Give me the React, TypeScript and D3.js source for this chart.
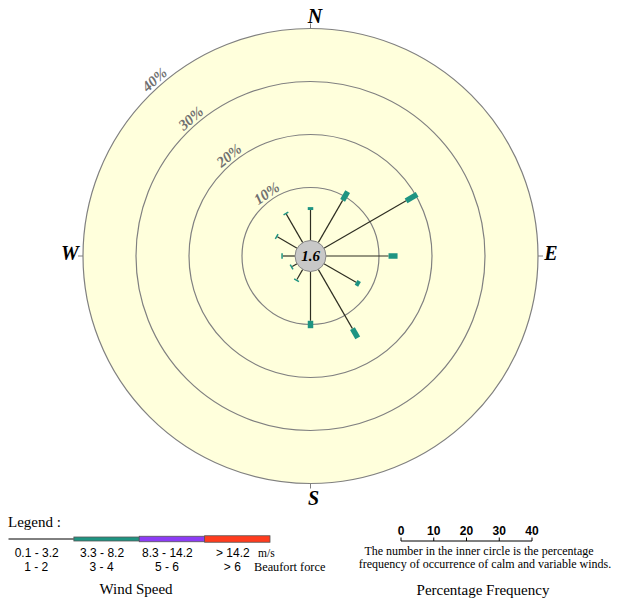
import React from "react";
import * as d3 from "d3";

// Directions (degrees clockwise from north)
const directions = [0, 30, 60, 90, 120, 150, 180, 210, 240, 270, 300, 330];
// Percentage frequency for 0.1-3.2 m/s (Beaufort 1-2)
const band1 = [5.75, 9.2, 17.9, 11.8, 7.0, 12.9, 9.3, 2.2, 1.05, 2.3, 4.3, 6.2];
// Percentage frequency for 3.3-8.2 m/s (Beaufort 3-4)
const band2 = [0.55, 1.9, 2.4, 1.7, 0.75, 2.0, 1.4, 0.15, 0.15, 0.15, 0.15, 0.15];
const calm = 1.6;
const rings = [10, 20, 30, 40];
const ringLabelAngles = [-35, -39, -41, -41.5];
const compass = [
  { label: "N", angle: 0 },
  { label: "E", angle: 90 },
  { label: "S", angle: 180 },
  { label: "W", angle: 270 },
];
const legendColors = ["#000000", "#1e9482", "#8c3cf5", "#ff3c1e"];
const legendMs = ["0.1 - 3.2", "3.3 - 8.2", "8.3 - 14.2", "> 14.2"];
const legendBeaufort = ["1 - 2", "3 - 4", "5 - 6", "> 6"];
const scaleTicks = [0, 10, 20, 30, 40];

const cx = 310.5;
const cy = 256;

export default function App() {
  const r = d3.scaleLinear().domain([0, 40]).range([15.5, 227.5]);
  const legX = d3.scaleLinear().domain([0, 4]).range([8.5, 270]);
  const sx = d3.scaleLinear().domain([0, 40]).range([401, 532]);
  const serif = "'Liberation Serif', 'Times New Roman', serif";
  const sans = "'Liberation Sans', Arial, sans-serif";
  const legHeights = [0, 4, 5.5, 6.5];

  return (
    <svg
      width={620}
      height={600}
      style={{ position: "absolute", left: 0, top: 0, background: "#fff" }}
    >
      <g transform={`translate(${cx},${cy})`}>
        <circle r={r(40)} fill="#ffffdc" stroke="#808080" strokeWidth={1.2} />
        {rings.slice(0, 3).map((p) => (
          <circle key={p} r={r(p)} fill="none" stroke="#808080" strokeWidth={1.2} />
        ))}
        {compass.map((c) => (
          <g key={c.label} transform={`rotate(${c.angle})`}>
            <line x1={0} x2={0} y1={-r(40)} y2={-r(40) - 5} stroke="#808080" strokeWidth={1} />
          </g>
        ))}
        {rings.map((p, i) => (
          <text
            key={p}
            transform={`rotate(${ringLabelAngles[i]}) translate(0,${-(r(p) + 3)})`}
            textAnchor="middle"
            fontFamily={serif}
            fontWeight="bold"
            fontStyle="italic"
            fontSize={15}
            fill="#707070"
          >
            {p}%
          </text>
        ))}
        {directions.map((a, i) => {
          const r1 = r(band1[i]);
          const r2 = r(band1[i] + band2[i]);
          const len = Math.max(r2 - r1, 1.5);
          return (
            <g key={a} transform={`rotate(${a})`}>
              <line x1={0} x2={0} y1={-r(0)} y2={-r1} stroke="#2e2e22" strokeWidth={1.2} />
              <rect x={-2.75} y={-r1 - len} width={5.5} height={len} fill="#1e9482" />
            </g>
          );
        })}
        <circle r={r(0)} fill="#c8c8c8" stroke="#888" strokeWidth={1} />
        <text
          y={5}
          textAnchor="middle"
          fontFamily={serif}
          fontWeight="bold"
          fontStyle="italic"
          fontSize={15}
          fill="#000"
        >
          {calm}
        </text>
      </g>

      {/* Compass letters */}
      <text x={315} y={23} textAnchor="middle" fontFamily={serif} fontWeight="bold" fontStyle="italic" fontSize={20}>N</text>
      <text x={551} y={260} textAnchor="middle" fontFamily={serif} fontWeight="bold" fontStyle="italic" fontSize={20}>E</text>
      <text x={313.5} y={505} textAnchor="middle" fontFamily={serif} fontWeight="bold" fontStyle="italic" fontSize={20}>S</text>
      <text x={70} y={260} textAnchor="middle" fontFamily={serif} fontWeight="bold" fontStyle="italic" fontSize={20}>W</text>

      {/* Legend */}
      <text x={8} y={527} fontFamily={serif} fontSize={15}>Legend :</text>
      {legendColors.map((c, i) => {
        const x0 = legX(i);
        const x1 = legX(i + 1);
        const h = legHeights[i];
        return i === 0 ? (
          <line key={i} x1={x0} x2={x1} y1={539} y2={539} stroke="#000" strokeWidth={1} />
        ) : (
          <rect key={i} x={x0} y={539 - h / 2} width={x1 - x0} height={h} fill={c} stroke="#555" strokeWidth={0.8} />
        );
      })}
      {legendMs.map((t, i) => (
        <text key={t} x={legX(i + 0.5) - 4.5} y={557} textAnchor="middle" fontFamily={sans} fontSize={12}>
          {t}
        </text>
      ))}
      <text x={258} y={557} fontFamily={serif} fontSize={11.5}>m/s</text>
      {legendBeaufort.map((t, i) => (
        <text key={t} x={legX(i + 0.5) - 5} y={570.5} textAnchor="middle" fontFamily={sans} fontSize={12}>
          {t}
        </text>
      ))}
      <text x={254} y={570.5} fontFamily={serif} fontSize={12.3}>Beaufort force</text>
      <text x={136} y={594} textAnchor="middle" fontFamily={serif} fontSize={15}>Wind Speed</text>

      {/* Percentage scale */}
      <line x1={sx(0)} x2={sx(40)} y1={541} y2={541} stroke="#000" strokeWidth={1} />
      {scaleTicks.map((t) => (
        <g key={t}>
          <line x1={sx(t)} x2={sx(t)} y1={537.5} y2={541} stroke="#000" strokeWidth={1} />
          <text x={sx(t)} y={535} textAnchor="middle" fontFamily={sans} fontWeight="bold" fontSize={12}>
            {t}
          </text>
        </g>
      ))}
      <text x={479} y={555} textAnchor="middle" fontFamily={serif} fontSize={12}>
        The number in the inner circle is the percentage
      </text>
      <text x={485} y={568} textAnchor="middle" fontFamily={serif} fontSize={12}>
        frequency of occurrence of calm and variable winds.
      </text>
      <text x={483} y={595} textAnchor="middle" fontFamily={serif} fontSize={15}>Percentage Frequency</text>
    </svg>
  );
}
